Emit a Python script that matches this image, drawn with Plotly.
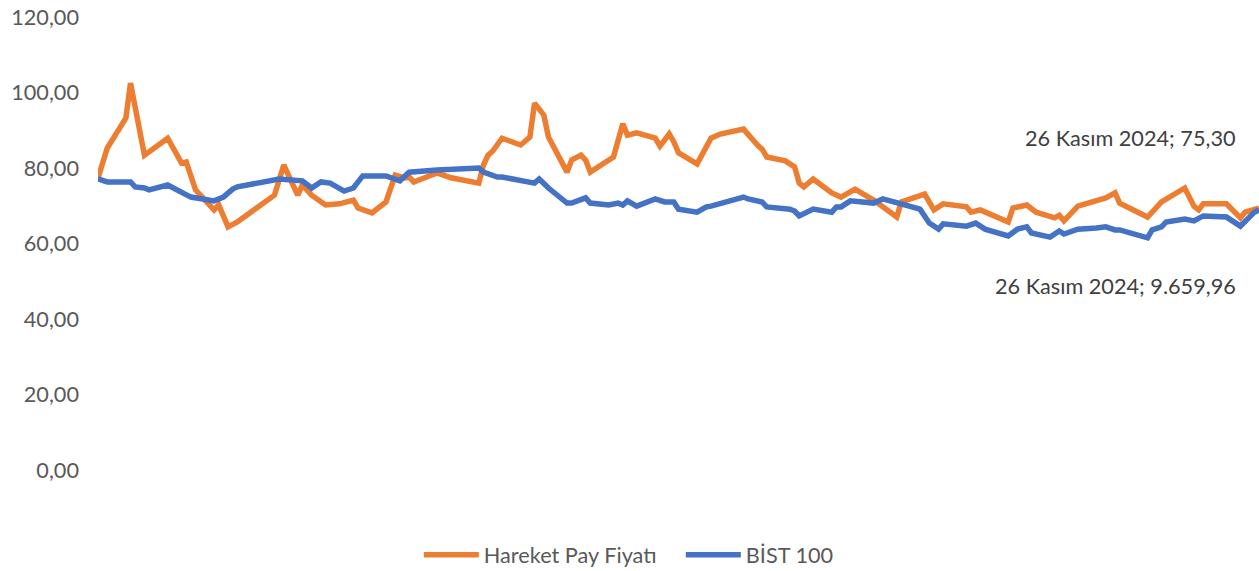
import plotly.graph_objects as go

# Trading-day index (approx.) and normalized values
hareket_gun = [0, 2, 6, 7, 10, 15, 18, 19, 21, 25, 26, 28, 30, 38, 40, 41, 43, 44, 46, 49,
               52, 55, 56, 59, 62, 64, 66, 67, 68, 73, 76, 82, 83, 84, 85, 87, 91, 93, 94, 96,
               97, 101, 102, 104, 105, 106, 111, 113, 114, 116, 120, 121, 123, 124, 125, 129, 132, 134, 139, 142,
               143, 144, 148, 150, 151, 152, 154, 158, 160, 163, 167, 172, 173, 178, 180, 182, 187, 188, 190, 196,
               197, 200, 202, 206, 207, 208, 211, 217, 219, 220, 226, 229, 234, 236, 237, 238, 243, 246, 247, 250]
hareket_deger = [77.3, 85.3, 93.2, 102.5, 83.4, 87.9, 81.3, 81.6, 74.2, 68.9, 70.2, 64.4, 65.7, 72.8, 80.8, 78.1, 72.8, 75.5, 72.8, 70.2,
                 70.5, 71.5, 69.4, 68.1, 71.0, 78.1, 77.4, 77.6, 76.3, 78.7, 77.4, 76.0, 80.8, 83.4, 84.5, 87.9, 86.1, 88.2, 97.2, 94.0,
                 88.2, 78.9, 82.1, 83.4, 82.1, 78.9, 82.9, 91.7, 88.7, 89.3, 87.9, 85.8, 89.0, 86.9, 84.0, 81.1, 87.9, 89.0, 90.3, 86.1,
                 85.0, 82.9, 81.9, 80.3, 76.0, 75.0, 77.1, 73.4, 72.3, 74.4, 71.5, 67.0, 71.0, 73.1, 68.9, 70.5, 69.7, 68.3, 68.9, 65.7,
                 69.4, 70.2, 68.3, 66.8, 67.5, 66.0, 69.9, 72.1, 73.4, 70.7, 67.0, 71.0, 74.7, 69.9, 68.9, 70.5, 70.5, 66.8, 68.3, 69.4]

bist_gun = [0, 2, 7, 8, 10, 11, 15, 17, 18, 20, 25, 27, 29, 30, 39, 41, 44, 46, 48, 50,
            53, 55, 57, 62, 65, 67, 73, 82, 83, 86, 87, 94, 95, 97, 101, 102, 105, 106, 110, 112,
            113, 114, 116, 120, 122, 124, 125, 129, 131, 132, 139, 140, 143, 144, 149, 150, 151, 154, 158, 159,
            160, 162, 167, 169, 172, 177, 179, 181, 182, 187, 189, 191, 196, 198, 200, 201, 205, 207, 208, 210,
            211, 215, 217, 219, 220, 226, 227, 229, 230, 234, 236, 238, 243, 246, 248, 249, 250]
bist_deger = [77.1, 76.3, 76.3, 75.0, 74.7, 74.2, 75.5, 74.2, 73.9, 72.3, 71.3, 72.3, 74.4, 75.0, 77.1, 76.8, 76.6, 74.7, 76.3, 76.0,
              73.9, 74.7, 77.9, 77.9, 76.6, 78.9, 79.5, 80.0, 78.9, 77.6, 77.6, 76.0, 77.1, 74.7, 70.7, 70.7, 72.1, 70.7, 70.2, 70.7,
              70.2, 71.3, 69.9, 71.8, 71.0, 71.0, 69.1, 68.3, 69.7, 69.9, 72.3, 71.8, 71.0, 69.7, 69.1, 68.6, 67.3, 69.1, 68.3, 69.7,
              69.7, 71.3, 70.7, 71.8, 70.7, 69.1, 65.4, 63.8, 65.2, 64.6, 65.4, 63.8, 62.0, 63.8, 64.4, 62.8, 61.7, 63.3, 62.5, 63.6,
              63.8, 64.1, 64.4, 63.6, 63.6, 61.5, 63.6, 64.4, 65.7, 66.5, 66.0, 67.3, 67.0, 64.6, 67.0, 68.3, 68.9]

y_ticks = [0, 20, 40, 60, 80, 100, 120]
y_tick_text = ["0,00", "20,00", "40,00", "60,00", "80,00", "100,00", "120,00"]

etiket_hareket = "26 Kasım 2024; 75,30"
etiket_bist = "26 Kasım 2024; 9.659,96"

FONT = "Lato, 'Noto Sans', sans-serif"
FS = 21.7

fig = go.Figure()
fig.add_trace(go.Scatter(x=hareket_gun, y=hareket_deger, mode="lines", name="Hareket Pay Fiyatı",
                         line=dict(color="#ED7D31", width=5.5, shape="linear")))
fig.add_trace(go.Scatter(x=bist_gun, y=bist_deger, mode="lines", name="BİST 100",
                         line=dict(color="#4472C4", width=5.5, shape="linear")))

fig.add_annotation(x=0.982, y=87.9, xref="paper", yref="y", text=etiket_hareket, showarrow=False,
                   xanchor="right", yanchor="middle", font=dict(family=FONT, size=FS, color="#404040"))
fig.add_annotation(x=0.982, y=48.7, xref="paper", yref="y", text=etiket_bist, showarrow=False,
                   xanchor="right", yanchor="middle", font=dict(family=FONT, size=FS, color="#404040"))

fig.update_layout(
    width=1259, height=571,
    margin=dict(l=98, r=0, t=17, b=101, autoexpand=False),
    paper_bgcolor="white", plot_bgcolor="white",
    font=dict(family=FONT, size=FS, color="#595959"),
    showlegend=True,
    legend=dict(orientation="h", x=0.502, y=-0.188, xanchor="center", yanchor="middle",
                font=dict(family=FONT, size=FS, color="#595959"), itemwidth=55,
                entrywidth=192, tracegroupgap=0),
    xaxis=dict(range=[0, 250], showgrid=False, zeroline=False, showline=False,
               showticklabels=False, ticks="", automargin=False),
    yaxis=dict(range=[0, 120], tickvals=y_ticks, ticktext=y_tick_text, showgrid=False,
               zeroline=False, showline=False, ticks="", ticklabelstandoff=18, automargin=False,
               tickfont=dict(family=FONT, size=FS, color="#595959")),
)

fig.write_html("out.html", config={"displayModeBar": False},
               post_script="document.body.style.margin='0';document.body.style.overflow='hidden';")
